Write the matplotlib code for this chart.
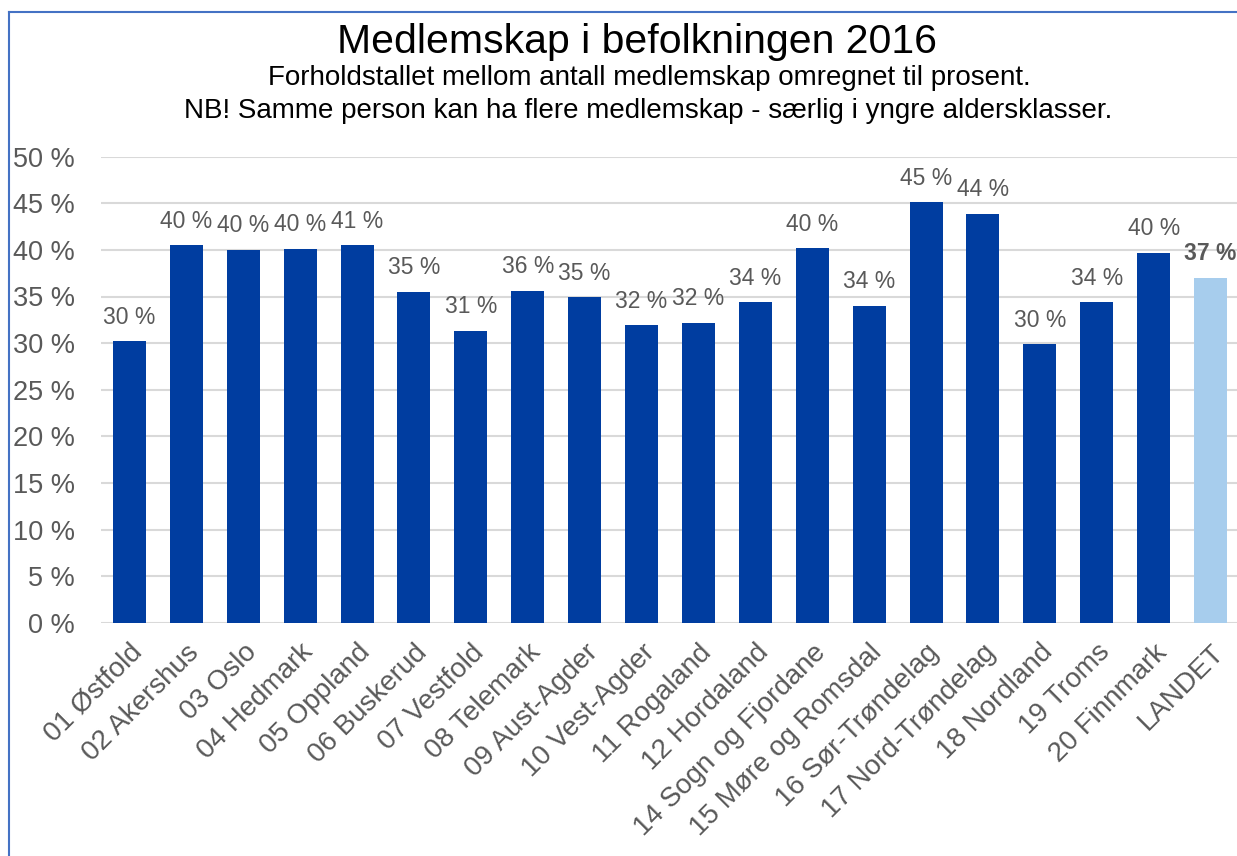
import matplotlib
matplotlib.use("Agg")
import matplotlib.pyplot as plt
from matplotlib.lines import Line2D

plt.rcParams['font.family'] = ['Liberation Sans', 'DejaVu Sans']

# data
fylker = ['01 Østfold', '02 Akershus', '03 Oslo', '04 Hedmark', '05 Oppland',
          '06 Buskerud', '07 Vestfold', '08 Telemark', '09 Aust-Agder',
          '10 Vest-Agder', '11 Rogaland', '12 Hordaland', '14 Sogn og Fjordane',
          '15 Møre og Romsdal', '16 Sør-Trøndelag', '17 Nord-Trøndelag',
          '18 Nordland', '19 Troms', '20 Finnmark', 'LANDET']
andel = [30.2, 40.5, 40.0, 40.1, 40.5, 35.5, 31.3, 35.6, 34.9, 31.9,
         32.2, 34.4, 40.2, 34.0, 45.1, 43.9, 29.9, 34.4, 39.7, 37.0]
etiketter = ['30 %', '40 %', '40 %', '40 %', '41 %', '35 %', '31 %', '36 %', '35 %', '32 %',
             '32 %', '34 %', '40 %', '34 %', '45 %', '44 %', '30 %', '34 %', '40 %', '37 %']
yticks = [0, 5, 10, 15, 20, 25, 30, 35, 40, 45, 50]

dark = '#003DA0'
light = '#A7CDED'
grey = '#595959'

W, H = 1237, 856
fig = plt.figure(figsize=(W / 100, H / 100), dpi=100)
ax = fig.add_axes([101 / W, (H - 622.7) / H, 1138 / W, 466 / H])

colors = [dark] * (len(fylker) - 1) + [light]
x = range(len(fylker))
ax.bar(x, andel, width=0.58, color=colors, zorder=3)

# value labels
for i, v in enumerate(andel):
    bold = fylker[i] == 'LANDET'
    ax.annotate(etiketter[i], (i, v), xytext=(0, 9), textcoords='offset points',
                ha='center', va='bottom', fontsize=16.5, color=grey,
                fontweight='bold' if bold else 'normal')

ax.set_xlim(-0.5, len(fylker) - 0.5)
ax.set_ylim(0, 50)
ax.set_yticks(yticks)
ax.set_yticklabels([f'{t} %' for t in yticks], fontsize=19.5, color=grey)
ax.set_xticks(list(x))
ax.set_xticklabels(fylker, rotation=45, ha='right', rotation_mode='anchor',
                   fontsize=20, color=grey)
ax.tick_params(axis='both', length=0)
ax.tick_params(axis='y', pad=19)
ax.tick_params(axis='x', pad=12)
ax.grid(axis='y', color='#D9D9D9', linewidth=1.5, zorder=0)
for s in ax.spines.values():
    s.set_visible(False)

# titles
fig.text(637 / W, 1 - 42 / H, 'Medlemskap i befolkningen 2016', ha='center', va='center',
         fontsize=29.5, color='black')
fig.text(649 / W, 1 - 78 / H, 'Forholdstallet mellom antall medlemskap omregnet til prosent.',
         ha='center', va='center', fontsize=20, color='black')
fig.text(648 / W, 1 - 111 / H,
         'NB! Samme person kan ha flere medlemskap - særlig i yngre aldersklasser.',
         ha='center', va='center', fontsize=20, color='black')

# chart frame (top and left edge visible)
fig.add_artist(Line2D([9 / W, 1], [1 - 12 / H, 1 - 12 / H], color='#4472C4', linewidth=1.5))
fig.add_artist(Line2D([9 / W, 9 / W], [0, 1 - 12 / H], color='#4472C4', linewidth=1.5))

fig.savefig('out.png', dpi=100)
